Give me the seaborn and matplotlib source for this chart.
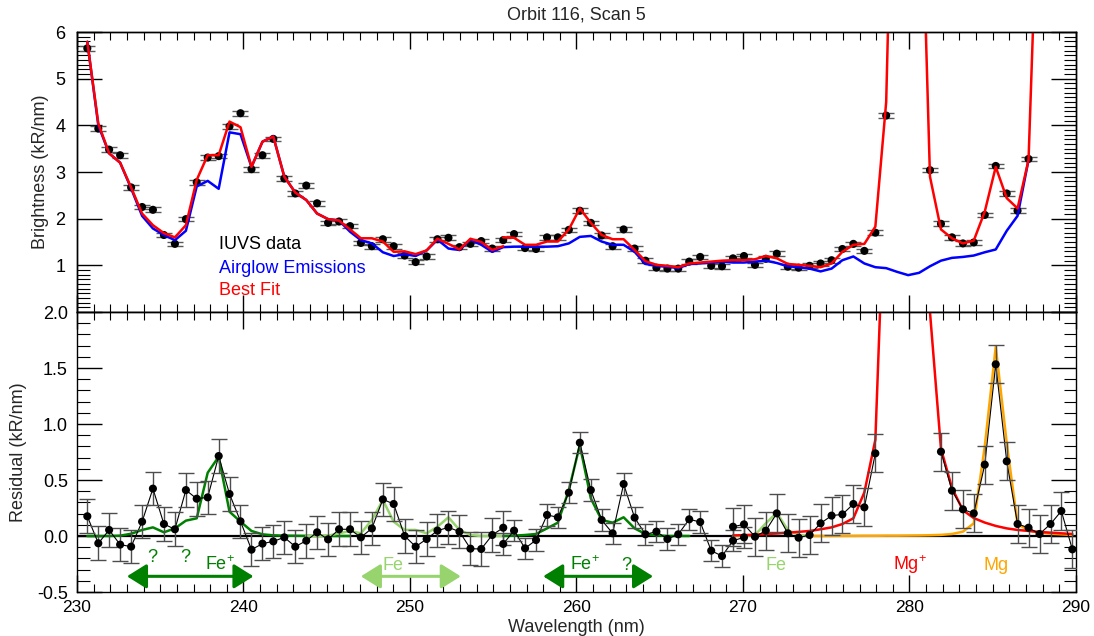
import numpy as np
import matplotlib
matplotlib.use("Agg")
import matplotlib.pyplot as plt
import seaborn as sns
from matplotlib.ticker import MultipleLocator, FixedLocator, FormatStrFormatter

# ---------------- data ----------------
wavelength = [230.62, 231.28, 231.93, 232.59, 233.25, 233.91, 234.56, 235.22, 235.88, 236.54,
              237.19, 237.85, 238.51, 239.16, 239.82, 240.48, 241.14, 241.79, 242.45, 243.11,
              243.77, 244.42, 245.08, 245.74, 246.40, 247.05, 247.71, 248.37, 249.02, 249.68,
              250.34, 251.00, 251.65, 252.31, 252.97, 253.63, 254.28, 254.94, 255.60, 256.25,
              256.91, 257.57, 258.23, 258.88, 259.54, 260.20, 260.86, 261.51, 262.17, 262.83,
              263.49, 264.14, 264.80, 265.46, 266.11, 266.77, 267.43, 268.09, 268.74, 269.40,
              270.06, 270.72, 271.37, 272.03, 272.69, 273.34, 274.00, 274.66, 275.32, 275.97,
              276.63, 277.29, 277.95, 278.60, 279.26, 279.92, 280.58, 281.23, 281.89, 282.55,
              283.21, 283.86, 284.52, 285.18, 285.84, 286.49, 287.15, 287.81, 288.47, 289.12,
              289.78]

nan = float("nan")
# top panel: IUVS brightness (kR/nm); off-scale points are nan
iuvs_data = [5.65, 3.93, 3.48, 3.36, 2.67, 2.25, 2.19, 1.65, 1.46, 1.99,
             2.78, 3.31, 3.34, 3.98, 4.26, 3.06, 3.36, 3.71, 2.86, 2.54,
             2.71, 2.33, 1.91, 1.94, 1.84, 1.48, 1.41, 1.56, 1.41, 1.21,
             1.07, 1.19, 1.56, 1.59, 1.39, 1.46, 1.52, 1.36, 1.54, 1.67,
             1.37, 1.35, 1.60, 1.60, 1.76, 2.17, 1.91, 1.64, 1.41, 1.77,
             1.36, 1.10, 0.95, 0.93, 0.93, 1.08, 1.18, 0.99, 0.98, 1.15,
             1.20, 1.01, 1.14, 1.25, 0.97, 0.95, 0.99, 1.04, 1.11, 1.35,
             1.46, 1.31, 1.70, 4.21, nan, nan, nan, 3.04, 1.89, 1.60,
             1.47, 1.49, 2.08, 3.13, 2.54, 2.17, 3.28, nan, nan, nan, nan]
iuvs_err = 0.05

airglow = [5.79, 4.00, 3.40, 3.20, 2.65, 2.06, 1.79, 1.65, 1.54, 1.74,
           2.69, 2.81, 2.64, 3.85, 3.81, 3.11, 3.65, 3.76, 2.90, 2.56,
           2.40, 2.11, 1.99, 1.96, 1.72, 1.54, 1.47, 1.28, 1.20, 1.24,
           1.20, 1.32, 1.55, 1.36, 1.33, 1.55, 1.44, 1.29, 1.39, 1.40,
           1.40, 1.40, 1.40, 1.41, 1.47, 1.61, 1.63, 1.51, 1.44, 1.44,
           1.29, 1.03, 0.99, 0.97, 0.94, 1.03, 1.04, 1.06, 1.08, 1.06,
           1.06, 1.08, 1.10, 1.05, 0.98, 0.96, 0.93, 0.87, 0.93, 1.11,
           1.19, 1.04, 0.96, 0.94, 0.86, 0.79, 0.84, 0.98, 1.10, 1.16,
           1.18, 1.21, 1.28, 1.34, 1.74, 2.06, 3.26]

# best fit, first spectral segment (points 0..38) and second (38..90)
best_fit_a = [5.79, 4.04, 3.40, 3.20, 2.67, 2.11, 1.86, 1.69, 1.60, 1.86,
              2.83, 3.36, 3.36, 4.08, 3.96, 3.11, 3.65, 3.76, 2.90, 2.56,
              2.40, 2.11, 1.99, 1.96, 1.77, 1.58, 1.58, 1.51, 1.29, 1.30,
              1.24, 1.32, 1.57, 1.46, 1.34, 1.57, 1.50, 1.33, 1.41]
best_fit_b = [1.60, 1.59, 1.44, 1.44, 1.51, 1.51, 1.77, 2.22, 1.91, 1.65,
              1.56, 1.56, 1.33, 1.09, 1.01, 0.99, 0.96, 1.04, 1.06, 1.08,
              1.10, 1.11, 1.11, 1.13, 1.20, 1.15, 1.03, 1.01, 0.99, 0.96,
              1.04, 1.29, 1.44, 1.46, 1.83, 4.5, 14.0, 30.0, 11.0, 2.90,
              1.77, 1.58, 1.47, 1.53, 2.15, 3.11, 2.44, 2.22, 3.26, 10.2,
              25.0, 30.0, 30.0]

# bottom panel: residuals in three overlapping segments
resid_a = [0.176, -0.065, 0.054, -0.077, -0.095, 0.128, 0.423, 0.107, 0.060, 0.410,
           0.333, 0.345, 0.714, 0.375, 0.131, -0.122, -0.068, -0.048, -0.012, -0.095,
           -0.042, 0.033, -0.030, 0.060, 0.060, -0.012, 0.068, 0.327, 0.286, 0.000,
           -0.095, -0.027, 0.048, 0.077, 0.039, -0.113, -0.116, 0.009, 0.074]
resid_b = [-0.071, 0.048, -0.110, -0.036, 0.188, 0.167, 0.387, 0.833, 0.410, 0.143,
           0.024, 0.464, 0.164, 0.015, 0.039, -0.027, 0.015, 0.149, 0.125, -0.131,
           -0.179, -0.042, -0.012]
resid_c = [0.083, 0.104, -0.006, 0.048, 0.202, 0.024, -0.015, 0.009, 0.113, 0.182,
           0.193, 0.286, 0.256, 0.738, nan, nan, nan, nan, nan, 0.753,
           0.405, 0.238, 0.202, 0.637, 1.533, 0.667, 0.107, 0.074, 0.018, 0.107,
           0.223, -0.119]
resid_err_a = 0.15
resid_err_b = 0.095
resid_err_c = 0.17

fe_ion_a = [0.0, 0.0, 0.0, 0.003, 0.02, 0.054, 0.077, 0.033, 0.068, 0.137,
            0.158, 0.565, 0.708, 0.217, 0.128, 0.045, 0.015, 0.006, 0.003, 0.002,
            0.001, 0.0, 0.0, 0.0, 0.0]
fe_a = [0.0, 0.0, 0.003, 0.024, 0.045, 0.024, 0.143, 0.321, 0.128, 0.054,
        0.054, 0.024, 0.083, 0.167, 0.054, 0.009, 0.0, 0.0, 0.0]
fe_ion_b = [0.0, 0.003, 0.009, 0.018, 0.068, 0.119, 0.410, 0.812, 0.336, 0.143,
            0.119, 0.167, 0.068, 0.018, 0.006, 0.0, 0.0, 0.0]
fe_c = [0.0, 0.0, 0.009, 0.113, 0.208, 0.054, 0.009, 0.0]
mg_ion_c = [0.005, 0.008, 0.012, 0.018, 0.022, 0.030, 0.037, 0.045, 0.060, 0.077,
            0.107, 0.158, 0.390, 0.860, 3.5, 14.0, 30.0, 12.0, 2.0, 0.78,
            0.43, 0.23, 0.16, 0.12, 0.09, 0.068, 0.054, 0.045, 0.036, 0.030,
            0.024, 0.018]
mg_c = [0.0, 0.0, 0.0, 0.001, 0.001, 0.002, 0.002, 0.003, 0.003, 0.004,
        0.005, 0.007, 0.010, 0.018, 0.039, 0.113, 0.800, 1.690, 0.830, 0.107,
        0.050, 0.030, 0.020, 0.015, 0.010]

# ---------------- style ----------------
sns.set_theme(style="ticks", rc={"axes.edgecolor": "black", "axes.linewidth": 1.0,
                                 "xtick.color": "black", "ytick.color": "black"})
plt.rcParams["font.family"] = ["Liberation Sans", "DejaVu Sans"]
plt.rcParams["mathtext.fontset"] = "custom"
plt.rcParams["mathtext.rm"] = "Liberation Sans"
plt.rcParams["mathtext.it"] = "Liberation Sans"
plt.rcParams["axes.unicode_minus"] = False

DKGREEN = "#008000"
LTGREEN = "#98D46E"
ORANGE = "#FFA500"

wl = np.asarray(wavelength)


def runs(x, y):
    x = np.asarray(x, float)
    y = np.asarray(y, float)
    idx = np.flatnonzero(~np.isnan(y))
    if len(idx) == 0:
        return []
    groups = np.split(idx, np.flatnonzero(np.diff(idx) > 1) + 1)
    return [(x[g], y[g]) for g in groups]


def line(ax, x, y, color, lw, z):
    for xs, ys in runs(x, y):
        sns.lineplot(x=xs, y=ys, ax=ax, color=color, linewidth=lw, estimator=None,
                     sort=False, legend=False, zorder=z)


def points(ax, x, y, err, ecolor, z):
    x = np.asarray(x, float)
    y = np.asarray(y, float)
    ax.errorbar(x, y, yerr=err, fmt="none", ecolor=ecolor, elinewidth=1.0,
                capsize=5.5, capthick=1.0, zorder=z)
    sns.scatterplot(x=x, y=y, ax=ax, color="black", s=34, edgecolor="none",
                    legend=False, zorder=z + 1)


fig = plt.figure(figsize=(10.94, 6.36), dpi=100)
ax1 = fig.add_axes([0.07038, 0.50943, 0.91316, 0.44025])
ax2 = fig.add_axes([0.07038, 0.06918, 0.91316, 0.44025])

# ---------------- top panel ----------------
points(ax1, wl, iuvs_data, iuvs_err, "0.35", 3)
line(ax1, wl[:len(airglow)], airglow, "blue", 1.8, 5)
line(ax1, wl[:39], best_fit_a, "red", 1.8, 6)
line(ax1, wl[38:], best_fit_b, "red", 1.8, 6)

ax1.text(238.55, 1.343, "IUVS data", color="black", fontsize=13, va="baseline")
ax1.text(238.55, 0.842, "Airglow Emissions", color="blue", fontsize=13, va="baseline")
ax1.text(238.55, 0.358, "Best Fit", color="red", fontsize=13, va="baseline")

# ---------------- bottom panel ----------------
ax2.axhline(0, color="black", lw=1.6, zorder=2)
line(ax2, wl[0:25], fe_ion_a, DKGREEN, 1.8, 3)
line(ax2, wl[20:39], fe_a, LTGREEN, 1.8, 3)
line(ax2, wl[38:56], fe_ion_b, DKGREEN, 1.8, 3)
line(ax2, wl[59:67], fe_c, LTGREEN, 1.8, 3)
line(ax2, wl[66:91], mg_c, ORANGE, 1.8, 3)
line(ax2, wl[59:91], mg_ion_c, "red", 1.8, 3)

for xs, ys, err in ((wl[0:39], resid_a, resid_err_a),
                    (wl[38:61], resid_b, resid_err_b),
                    (wl[59:91], resid_c, resid_err_c)):
    line(ax2, xs, ys, "black", 0.8, 4)
    points(ax2, xs, ys, err, "0.3", 5)

# labels + arrows
ax2.text(234.5, -0.23, "?", color=DKGREEN, fontsize=13, ha="center", va="baseline")
ax2.text(236.5, -0.23, "?", color=DKGREEN, fontsize=13, ha="center", va="baseline")
ax2.text(238.6, -0.305, "Fe$^{+}$", color=DKGREEN, fontsize=13, ha="center", va="baseline")
ax2.text(249.0, -0.305, "Fe", color=LTGREEN, fontsize=13, ha="center", va="baseline")
ax2.text(260.5, -0.305, "Fe$^{+}$", color=DKGREEN, fontsize=13, ha="center", va="baseline")
ax2.text(263.0, -0.305, "?", color=DKGREEN, fontsize=13, ha="center", va="baseline")
ax2.text(272.0, -0.305, "Fe", color=LTGREEN, fontsize=13, ha="center", va="baseline")
ax2.text(280.0, -0.305, "Mg$^{+}$", color="red", fontsize=13, ha="center", va="baseline")
ax2.text(285.2, -0.305, "Mg", color=ORANGE, fontsize=13, ha="center", va="baseline")

arrow_style = "<|-|>,head_length=0.4,head_width=0.25"
for x0, x1, c in ((233.0, 240.6, DKGREEN), (247.05, 253.05, LTGREEN), (258.0, 264.6, DKGREEN)):
    ax2.annotate("", xy=(x1, -0.36), xytext=(x0, -0.36),
                 arrowprops=dict(arrowstyle=arrow_style, color=c, lw=2.2,
                                 mutation_scale=30, shrinkA=0, shrinkB=0))

# ---------------- axes / ticks ----------------
for ax in (ax1, ax2):
    ax.set_xlim(230, 290)
    ax.xaxis.set_major_locator(MultipleLocator(10))
    ax.xaxis.set_minor_locator(MultipleLocator(1))
    ax.tick_params(axis="x", which="major", direction="in", length=12, width=1.0,
                   top=True, bottom=True, labelsize=12.5, pad=6)
    ax.tick_params(axis="x", which="minor", direction="in", length=6, width=0.8,
                   top=True, bottom=True)
    ax.set_xlabel("")
    ax.set_ylabel("")
ax1.tick_params(axis="x", labelbottom=False)

ax1.set_ylim(0, 6)
ax1.set_yticks([1, 2, 3, 4, 5, 6])
ax1.yaxis.set_minor_locator(FixedLocator([0.1, 0.2, 0.3, 0.4, 0.5, 0.6, 0.7, 0.8, 0.9,
                                          5.1, 5.2, 5.3, 5.4, 5.5, 5.6, 5.7, 5.8, 5.9]))
ax1.tick_params(axis="y", which="major", direction="in", length=18, width=1.0,
                left=True, right=False, labelsize=13, pad=8.5)
ax1.tick_params(axis="y", which="minor", direction="in", length=9, width=0.8,
                left=True, right=False)
ax1r = ax1.twinx()
ax1r.set_ylim(0, 6)
ax1r.yaxis.set_major_locator(MultipleLocator(1))
ax1r.yaxis.set_minor_locator(MultipleLocator(0.1))
ax1r.tick_params(axis="y", which="major", direction="in", length=18, width=1.0,
                 labelright=False)
ax1r.tick_params(axis="y", which="minor", direction="in", length=9, width=0.8)

ax2.set_ylim(-0.5, 2.0)
ax2.yaxis.set_major_locator(MultipleLocator(0.5))
ax2.yaxis.set_minor_locator(MultipleLocator(0.1))
ax2.yaxis.set_major_formatter(FormatStrFormatter("%.1f"))
ax2.tick_params(axis="y", which="major", direction="in", length=18, width=1.0,
                left=True, right=True, labelsize=13, pad=6.5)
ax2.tick_params(axis="y", which="minor", direction="in", length=9, width=0.8,
                left=True, right=True)

ax1.set_ylabel("Brightness (kR/nm)", fontsize=13)
ax1.yaxis.set_label_coords(-0.0285, 0.5)
ax2.set_ylabel("Residual (kR/nm)", fontsize=13)
ax2.yaxis.set_label_coords(-0.050, 0.5)
ax2.set_xlabel("Wavelength (nm)", fontsize=13)
ax2.xaxis.set_label_coords(0.5, -0.097)

fig.text(0.527, 1 - 15 / 636, "Orbit 116, Scan 5", ha="center", va="center", fontsize=13)

fig.savefig("out.png", dpi=100)
